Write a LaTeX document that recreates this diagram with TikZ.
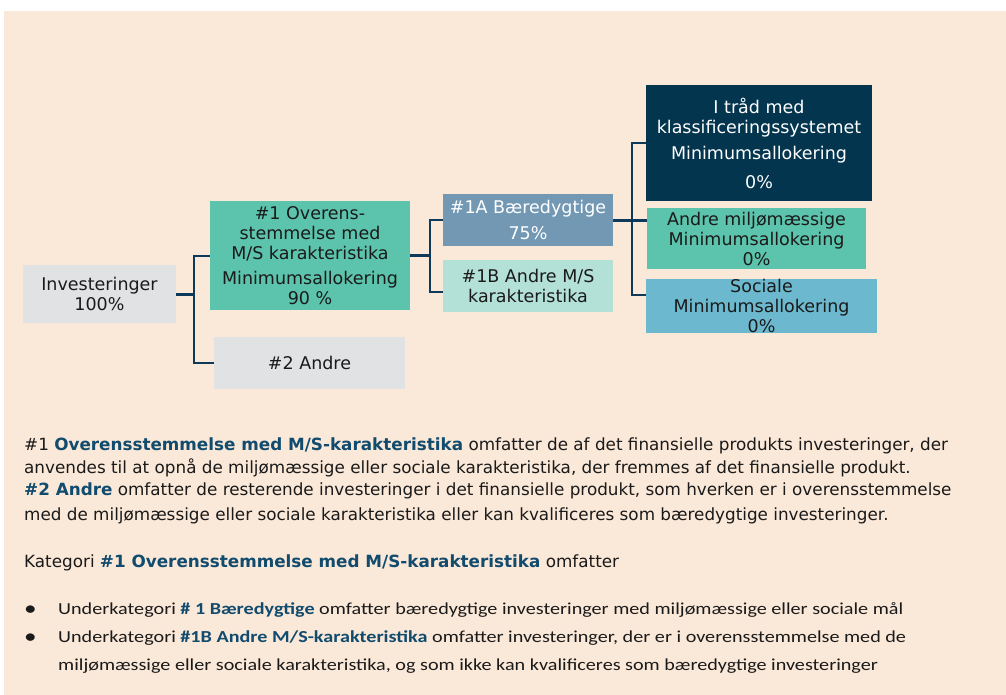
\documentclass[tikz,border=0pt]{standalone}
\usepackage{fontspec}
\setmainfont{DejaVu Sans}
\newfontfamily\calibri[FakeStretch=1.2]{Carlito}
\usepackage{tikz}
\usetikzlibrary{positioning}
\definecolor{esg-bg}{HTML}{FAE8D8}
\definecolor{esg-grey}{HTML}{E1E2E4}
\definecolor{esg-teal}{HTML}{5CC3AD}
\definecolor{esg-steel}{HTML}{7298B4}
\definecolor{esg-mint}{HTML}{B3E1D7}
\definecolor{esg-navy}{HTML}{03354F}
\definecolor{esg-sky}{HTML}{6CB9CF}
\definecolor{esg-line}{HTML}{0D3A5A}
\definecolor{esg-blue}{HTML}{114B6E}
\definecolor{esg-text}{HTML}{1A1A1A}

\begin{document}
\begin{tikzpicture}[x=1pt, y=-1pt,
    box/.style={inner sep=0pt, align=center, text=esg-text,
      font=\fontsize{17.5}{20}\selectfont},
    stem/.style={esg-line, line width=3pt},
    link/.style={esg-line, line width=2pt},
    body/.style={anchor=base west, inner sep=0pt, text=esg-text,
      font=\fontsize{16.8}{20}\selectfont},
    bullet/.style={anchor=base west, inner sep=0pt, text=esg-text,
      font=\calibri\fontsize{16.8}{20}\selectfont}]

    % Background
    \useasboundingbox (0,0) rectangle (1006,695);
    \fill[esg-bg] (4,11) rectangle (1006,695);

    % Boxes
    \node[box, fill=esg-grey, minimum width=153pt, minimum height=58pt] (inv) at (99.5,294) {Investeringer\\100\%};
    \node[box, fill=esg-teal, minimum width=200pt, minimum height=109pt] (ms) at (310,255.5) {\#1 Overens-\\stemmelse med\\M/S karakteristika\\[5pt]Minimumsallokering\\90 \%};
    \node[box, fill=esg-grey, minimum width=191pt, minimum height=52pt] (andre) at (309.5,363) {\#2 Andre};
    \node[box, fill=esg-steel, text=white, minimum width=170pt, minimum height=52pt] (ba) at (528,220) {\#1A Bæredygtige\\[6pt]75\%};
    \node[box, fill=esg-mint, minimum width=170pt, minimum height=52pt] (ob) at (528,286) {\#1B Andre M/S\\karakteristika};
    \node[box, fill=esg-navy, text=white, minimum width=226pt, minimum height=116pt] (tax) at (759,143) {I tråd med\\klassificeringssystemet\\[6pt]Minimumsallokering\\[9pt]0\%};
    \node[box, fill=esg-teal, minimum width=219pt, minimum height=61pt] (ami) at (756.5,238.5) {Andre miljømæssige\\Minimumsallokering\\0\%};
    \node[box, fill=esg-sky, minimum width=231pt, minimum height=54pt] (soc) at (761.5,306) {Sociale\\Minimumsallokering\\0\%};

    % Connectors
    \coordinate (j1) at (194,294);
    \coordinate (j2) at (430,255.5);
    \coordinate (j3) at (632,220);
    \draw[stem] (inv.east) -- (j1);
    \draw[link] (ms.west) -| (j1) |- (andre.west);
    \draw[stem] (ms.east) -- (j2);
    \draw[link] (ba.west) -| (j2) |- ([yshift=-6pt]ob.west);
    \draw[stem] (ba.east) -- ([yshift=18.5pt]ami.west);
    \draw[link] (tax.west) -| (j3) |- ([yshift=11pt]soc.west);

    % Explanation
    \node[body] (l1) at (24,450) {\#1 {\bfseries\color{esg-blue}Overensstemmelse med M/S-karakteristika} omfatter de af det finansielle produkts investeringer, der};
    \node[body] (l2) at (24,473) {anvendes til at opnå de miljømæssige eller sociale karakteristika, der fremmes af det finansielle produkt.};
    \node[body] (l3) at (24,495) {{\bfseries\color{esg-blue}\#2 Andre} omfatter de resterende investeringer i det finansielle produkt, som hverken er i overensstemmelse};
    \node[body] (l4) at (24,520) {med de miljømæssige eller sociale karakteristika eller kan kvalificeres som bæredygtige investeringer.};
    \node[body] (l5) at (24,567) {Kategori {\bfseries\color{esg-blue}\#1 Overensstemmelse med M/S-karakteristika} omfatter};

    % Sub-categories
    \node[bullet, font=\calibri\fontsize{21}{20}\selectfont] (d1) at (24,615) {•};
    \node[bullet] (s1) at (58,614) {Underkategori {\bfseries\color{esg-blue}\# 1 Bæredygtige} omfatter bæredygtige investeringer med miljømæssige eller sociale mål};
    \node[bullet, font=\calibri\fontsize{21}{20}\selectfont] (d2) at (24,643) {•};
    \node[bullet] (s2) at (58,642) {Underkategori {\bfseries\color{esg-blue}\#1B Andre M/S-karakteristika} omfatter investeringer, der er i overensstemmelse med de};
    \node[bullet] (s3) at (58,670) {miljømæssige eller sociale karakteristika, og som ikke kan kvalificeres som bæredygtige investeringer};

\end{tikzpicture}
\end{document}
